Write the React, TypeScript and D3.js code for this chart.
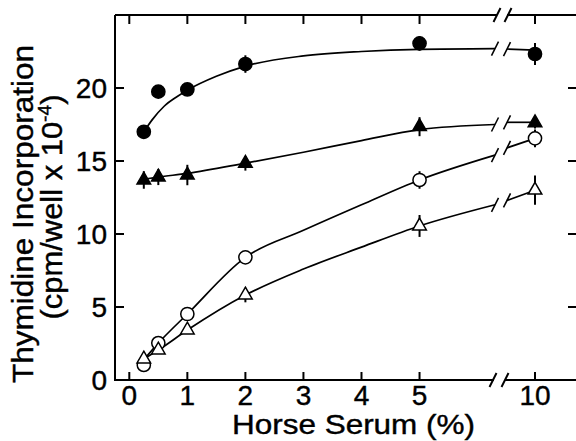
import React from "react";
import * as d3 from "d3";

// ---- data ----
const doses = [0.25, 0.5, 1, 2, 5, 10];
const xTickValues = [0, 1, 2, 3, 4, 5, 10];
const yTickValues = [0, 5, 10, 15, 20];

const filledCircleValues = [17.0, 19.75, 19.9, 21.64, 23.06, 22.33];
const filledCircleErrors = [0, 0, 0, 0.6, 0.5, 0.75];
const filledTriangleValues = [13.7, 13.9, 14.04, 14.84, 17.35, 17.62];
const filledTriangleErrors = [0.6, 0.55, 0.7, 0.5, 0.65, 0.4];
const openCircleValues = [1.03, 2.53, 4.52, 8.4, 13.7, 16.55];
const openCircleErrors = [0, 0, 0.3, 0, 0.6, 0.6];
const openTriangleValues = [1.44, 2.05, 3.42, 5.82, 10.55, 13.0];
const openTriangleErrors = [0, 0, 0, 0.5, 0.75, 1.0];

// axis break (in x-units of the compressed scale)
const breakLeft = 6.3;
const breakRight = 8.9;

// fitted curves (left of break) and tails (right of break: at breakRight, 10)
const filledCircleFitX = [0.25, 0.4, 0.6, 0.8, 1, 1.5, 2, 3, 4, 5, 6.3];
const filledCircleFitY = [17.0, 17.85, 18.75, 19.35, 19.85, 20.8, 21.5, 22.2, 22.5, 22.65, 22.7];
const filledCircleTail = [22.67, 22.6];
const lineFitX = [0.25, 0.5, 1, 2, 3, 4, 5, 6.3];
const filledTriangleFitY = [13.75, 13.9, 14.15, 14.85, 15.6, 16.4, 17.15, 17.5];
const filledTriangleTail = [17.65, 17.65];
const openCircleFitY = [1.4, 2.53, 4.52, 8.4, 10.25, 12.0, 13.7, 15.4];
const openCircleTail = [15.9, 16.55];
const openTriangleFitY = [1.44, 2.05, 3.42, 5.82, 7.6, 9.1, 10.55, 12.0];
const openTriangleTail = [12.3, 13.0];

const W = 576;
const H = 441;
const FONT = "'Liberation Sans', Arial, Helvetica, sans-serif";

export default function App() {
  const x = d3.scaleLinear().domain([0, breakLeft, breakRight, 10]).range([129.3, 495, 507, 535]);
  const y = d3.scaleLinear().domain([0, 25]).range([380, 15]);
  const left = 115;
  const top = y(25);
  const bottom = y(0);
  const rightAxis = 579;

  const line = d3
    .line<[number, number]>()
    .x((d) => x(d[0]))
    .y((d) => y(d[1]))
    .curve(d3.curveMonotoneX);

  const series = [
    { vals: filledCircleValues, errs: filledCircleErrors, fx: filledCircleFitX, fy: filledCircleFitY, tail: filledCircleTail, shape: "circle", filled: true },
    { vals: filledTriangleValues, errs: filledTriangleErrors, fx: lineFitX, fy: filledTriangleFitY, tail: filledTriangleTail, shape: "triangle", filled: true },
    { vals: openCircleValues, errs: openCircleErrors, fx: lineFitX, fy: openCircleFitY, tail: openCircleTail, shape: "circle", filled: false },
    { vals: openTriangleValues, errs: openTriangleErrors, fx: lineFitX, fy: openTriangleFitY, tail: openTriangleTail, shape: "triangle", filled: false },
  ];

  const tri = d3.symbol().type(d3.symbolTriangle).size(80)() as string;

  const slash = (cx: number, cy: number, key: string, sw = 1.6) => (
    <line key={key} x1={cx - 3.5} y1={cy + 7} x2={cx + 3.5} y2={cy - 7} stroke="#000" strokeWidth={sw} />
  );

  const xbL = x(breakLeft);
  const xbR = x(breakRight);

  return (
    <svg width={W} height={H} style={{ position: "absolute", left: 0, top: 0, background: "#fff" }} fontFamily={FONT}>
      <rect width={W} height={H} fill="#fff" />
      {/* frame */}
      <g stroke="#000" strokeWidth={2} fill="none">
        <line x1={left} y1={top} x2={left} y2={bottom + 1} />
        <line x1={left} y1={bottom} x2={xbL - 1} y2={bottom} />
        <line x1={xbR - 2} y1={bottom} x2={W + 5} y2={bottom} />
        <line x1={left} y1={top} x2={xbL + 2} y2={top} />
        <line x1={xbR} y1={top} x2={W + 5} y2={top} />
        <line x1={rightAxis} y1={top} x2={rightAxis} y2={bottom} />
      </g>
      {slash(xbL - 2, bottom, "bs1", 2)}
      {slash(xbR - 2, bottom, "bs2", 2)}
      {slash(xbL + 2, top, "ts1", 2)}
      {slash(xbR + 1, top, "ts2", 2)}
      {/* ticks */}
      <g stroke="#000" strokeWidth={2}>
        {xTickValues.map((v) => (
          <g key={"xt" + v}>
            <line x1={x(v)} y1={bottom} x2={x(v)} y2={bottom - 8} />
            <line x1={x(v)} y1={top} x2={x(v)} y2={top + 9} />
          </g>
        ))}
        {yTickValues.filter((v) => v > 0).map((v) => (
          <g key={"yt" + v}>
            <line x1={left} y1={y(v)} x2={left + 9} y2={y(v)} />
            <line x1={rightAxis} y1={y(v)} x2={rightAxis - 11} y2={y(v)} />
          </g>
        ))}
      </g>
      {/* tick labels */}
      <g fontSize={28} fill="#000" stroke="#000" strokeWidth={0.4}>
        {xTickValues.map((v) => (
          <text key={"xl" + v} x={x(v)} y={405} textAnchor="middle">
            {v}
          </text>
        ))}
        {yTickValues.map((v) => (
          <text key={"yl" + v} x={107} y={y(v) + 10} textAnchor="end">
            {v}
          </text>
        ))}
      </g>
      {/* axis titles */}
      <g fill="#000" stroke="#000" strokeWidth={0.4}>
        <text x={353.5} y={434} fontSize={28} textAnchor="middle" textLength={243} lengthAdjust="spacingAndGlyphs">
          Horse Serum (%)
        </text>
        <text transform="translate(33,214) rotate(-90)" fontSize={29} textAnchor="middle" textLength={338} lengthAdjust="spacingAndGlyphs">
          Thymidine Incorporation
        </text>
        <text transform="translate(62,207) rotate(-90)" fontSize={29} textAnchor="middle" textLength={225} lengthAdjust="spacingAndGlyphs">
          (cpm/well x 10
          <tspan fontSize={18} dy={-11}>-4</tspan>
          <tspan dy={11}>)</tspan>
        </text>
      </g>
      {/* curves */}
      {series.map((s, i) => {
        const pts: [number, number][] = s.fx.map((xv, j) => [xv, s.fy[j]]);
        const tailPts: [number, number][] = [
          [breakRight, s.tail[0]],
          [10, s.tail[1]],
        ];
        const last = pts[pts.length - 1];
        return (
          <g key={"c" + i}>
            <path d={line(pts) as string} fill="none" stroke="#000" strokeWidth={1.7} />
            <path d={line(tailPts) as string} fill="none" stroke="#000" strokeWidth={1.7} />
            {slash(x(last[0]), y(last[1]), "sl" + i)}
            {slash(x(breakRight), y(s.tail[0]), "sr" + i)}
          </g>
        );
      })}
      {/* error bars */}
      <g stroke="#000" strokeWidth={2}>
        {series.map((s, i) =>
          s.vals.map((v, j) =>
            s.errs[j] > 0 ? (
              <line key={`e${i}-${j}`} x1={x(doses[j])} x2={x(doses[j])} y1={y(v - s.errs[j])} y2={y(v + s.errs[j])} />
            ) : null
          )
        )}
      </g>
      {/* markers */}
      {series.map((s, i) =>
        s.vals.map((v, j) =>
          s.shape === "circle" ? (
            <circle key={`m${i}-${j}`} cx={x(doses[j])} cy={y(v)} r={6.6} fill={s.filled ? "#000" : "#fff"} stroke="#000" strokeWidth={1.5} />
          ) : (
            <path key={`m${i}-${j}`} d={tri} transform={`translate(${x(doses[j])},${y(v)})`} fill={s.filled ? "#000" : "#fff"} stroke="#000" strokeWidth={1.5} />
          )
        )
      )}
    </svg>
  );
}
